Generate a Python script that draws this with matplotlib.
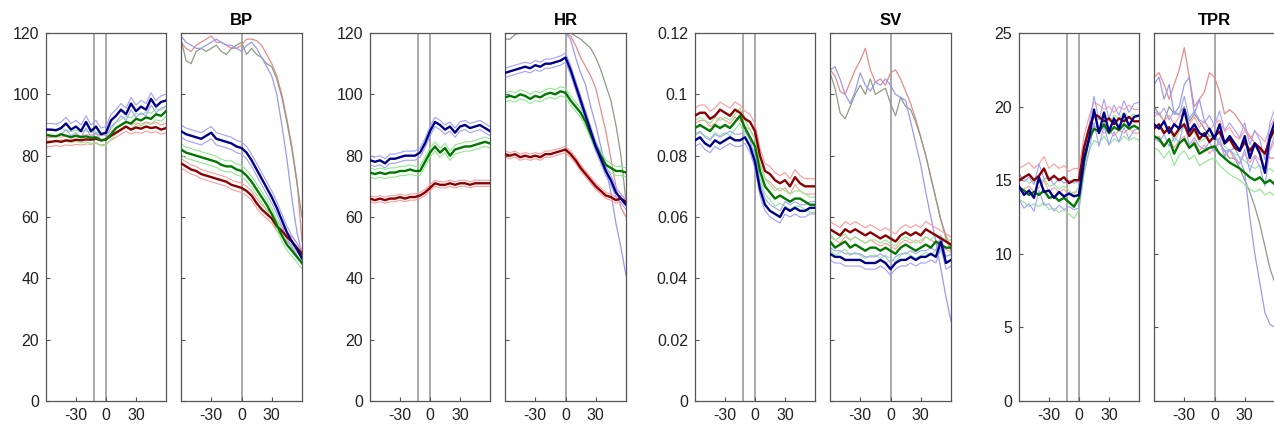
import matplotlib
matplotlib.use("Agg")
import matplotlib.pyplot as plt
from matplotlib.ticker import FuncFormatter

plt.rcParams['font.family'] = ['Liberation Sans', 'DejaVu Sans']
plt.rcParams['axes.unicode_minus'] = False

# time axis (s) for every panel
t = [-60, -55, -50, -45, -40, -35, -30, -25, -20, -15, -10, -5, 0,
     5, 10, 15, 20, 25, 30, 35, 40, 45, 50, 55, 60]

# ---- BP ----
bp_pre_red = [84.3, 84.5, 84.8, 84.5, 85.0, 84.8, 85.2, 85.0, 85.3, 85.2, 85.5, 85.0, 85.3,
              86.5, 87.5, 88.5, 89.5, 88.5, 89.2, 88.8, 89.5, 89.0, 89.3, 88.5, 89.0]
bp_pre_green = [86.8, 86.5, 86.3, 87.0, 86.5, 86.0, 86.5, 86.0, 86.3, 85.8, 86.0, 85.0, 85.2,
                87.0, 89.0, 90.0, 91.0, 90.5, 92.0, 91.5, 92.5, 92.0, 93.5, 93.0, 94.5]
bp_pre_blue = [88.5, 88.5, 88.3, 89.0, 90.5, 88.5, 89.5, 88.0, 91.0, 88.0, 89.5, 87.0, 87.5,
               91.5, 93.0, 95.0, 93.5, 97.0, 94.5, 96.0, 95.0, 98.5, 96.0, 97.5, 98.0]
bp_post_red = [77.5, 76.5, 75.5, 75.0, 74.0, 73.5, 73.0, 72.5, 72.0, 71.5, 70.5, 70.0, 69.5,
               68.5, 67.0, 64.5, 62.5, 61.0, 59.5, 57.0, 55.5, 53.5, 52.0, 50.0, 48.0]
bp_post_green = [82.0, 81.0, 80.5, 80.0, 79.5, 79.0, 78.5, 78.0, 77.0, 76.5, 76.5, 75.5, 75.0,
                 73.5, 71.5, 69.0, 66.5, 64.0, 61.0, 57.5, 54.0, 51.0, 49.0, 47.0, 45.0]
bp_post_blue = [88.0, 87.0, 86.5, 86.0, 85.5, 86.5, 87.5, 85.5, 85.0, 84.5, 84.0, 83.0, 82.5,
                81.0, 78.5, 75.5, 72.5, 69.5, 66.5, 63.0, 59.0, 55.0, 52.0, 49.5, 46.5]
bp_top_red = [117, 115, 114, 116, 117, 118, 119, 117, 117, 116, 115, 115, 116,
              118, 118, 117.5, 116, 113, 110, 106, 100, 92, 83, 72, 52]
bp_top_gray = [118, 111, 110, 114, 115, 114, 115, 116, 114, 113, 115, 116, 117,
               113, 115, 113, 112, 110, 109, 105, 99, 91, 82, 71, 60]
bp_top_blue = [119, 117, 116, 115, 115, 116, 117, 118, 117, 116, 116, 115, 114,
               116, 117, 115, 112, 109, 106, 100, 90, 79, 66, 55, 48]
bp_se = [1.5, 1.8, 2.0]

# ---- HR ----
hr_pre_red = [66.0, 65.5, 66.0, 65.5, 66.0, 66.0, 66.5, 66.0, 66.5, 66.5, 67.0, 68.0, 69.5,
              71.0, 70.5, 70.5, 71.0, 70.5, 71.0, 71.0, 70.5, 71.0, 71.0, 71.0, 71.0]
hr_pre_green = [74.5, 74.0, 74.5, 74.0, 74.5, 74.5, 75.0, 75.0, 75.5, 75.0, 75.0, 78.0, 81.0,
                83.0, 81.0, 82.5, 80.0, 82.0, 82.5, 83.0, 83.0, 83.5, 84.0, 84.5, 84.0]
hr_pre_blue = [78.5, 78.0, 78.5, 77.5, 79.0, 79.0, 79.5, 80.0, 80.0, 80.0, 81.0, 84.0, 88.0,
               91.0, 90.0, 88.5, 89.5, 87.5, 89.5, 90.0, 89.0, 89.5, 90.0, 89.0, 88.0]
hr_post_red = [80.5, 80.0, 80.5, 79.5, 80.0, 79.5, 80.0, 79.5, 80.5, 80.5, 81.0, 81.5, 82.0,
               80.5, 78.5, 76.0, 74.0, 72.0, 70.0, 68.5, 67.0, 66.5, 65.5, 66.0, 65.0]
hr_post_green = [99.0, 99.5, 99.0, 100.0, 99.5, 98.5, 99.5, 99.0, 100.0, 100.5, 100.0, 101.0, 100.5,
                 98.0, 96.0, 94.0, 91.0, 87.0, 83.0, 80.0, 77.0, 76.0, 75.0, 75.0, 74.5]
hr_post_blue = [107.0, 107.5, 108.0, 108.5, 109.0, 108.5, 109.5, 109.0, 110.0, 110.0, 110.5, 111.0, 112.0,
                108.0, 103.0, 98.0, 93.0, 88.0, 83.0, 79.0, 75.0, 72.0, 68.0, 66.0, 64.0]
hr_top_red = [120, 120, 120, 120, 120, 120, 120, 120, 120, 120, 120, 120, 120,
              119, 116, 112, 109, 106, 102, 95, 88, 79, 70, 63, 60]
hr_top_gray = [118, 118, 119.5, 120, 120, 120, 120, 120, 120, 120, 120, 120, 120,
               120, 119, 118, 116.5, 115, 112, 108, 103, 98, 90, 80, 65]
hr_top_blue = [120, 120, 120, 120, 120, 120, 120, 120, 120, 120, 120, 120, 120,
               118, 112, 107, 103, 96, 90, 83, 76, 68, 58, 50, 41]
hr_se = [1.0, 1.5, 1.5]

# ---- SV ----
sv_pre_red = [0.093, 0.094, 0.094, 0.092, 0.093, 0.095, 0.094, 0.093, 0.095, 0.094, 0.092, 0.091, 0.088,
              0.080, 0.075, 0.074, 0.072, 0.071, 0.072, 0.070, 0.073, 0.071, 0.070, 0.070, 0.070]
sv_pre_green = [0.089, 0.090, 0.089, 0.088, 0.090, 0.089, 0.090, 0.089, 0.091, 0.093, 0.089, 0.086, 0.083,
                0.075, 0.070, 0.068, 0.066, 0.067, 0.066, 0.065, 0.066, 0.066, 0.065, 0.064, 0.064]
sv_pre_blue = [0.085, 0.086, 0.084, 0.083, 0.085, 0.084, 0.085, 0.086, 0.085, 0.085, 0.086, 0.083, 0.078,
               0.069, 0.064, 0.062, 0.061, 0.060, 0.063, 0.062, 0.063, 0.062, 0.062, 0.063, 0.063]
sv_post_red = [0.056, 0.055, 0.054, 0.056, 0.055, 0.056, 0.055, 0.054, 0.055, 0.054, 0.053, 0.054, 0.053,
               0.052, 0.054, 0.055, 0.054, 0.055, 0.054, 0.056, 0.055, 0.054, 0.053, 0.052, 0.051]
sv_post_green = [0.052, 0.050, 0.051, 0.052, 0.050, 0.051, 0.050, 0.049, 0.050, 0.050, 0.049, 0.050, 0.049,
                 0.048, 0.050, 0.051, 0.050, 0.049, 0.050, 0.051, 0.050, 0.052, 0.051, 0.050, 0.050]
sv_post_blue = [0.048, 0.047, 0.047, 0.046, 0.046, 0.046, 0.046, 0.045, 0.045, 0.045, 0.046, 0.045, 0.043,
                0.045, 0.046, 0.046, 0.047, 0.046, 0.047, 0.047, 0.048, 0.047, 0.052, 0.045, 0.046]
sv_top_red = [0.108, 0.106, 0.101, 0.100, 0.104, 0.108, 0.111, 0.115, 0.108, 0.104, 0.105, 0.103, 0.107,
              0.108, 0.105, 0.101, 0.097, 0.092, 0.086, 0.080, 0.073, 0.066, 0.059, 0.054, 0.050]
sv_top_gray = [0.107, 0.102, 0.094, 0.092, 0.096, 0.100, 0.103, 0.100, 0.105, 0.100, 0.101, 0.102, 0.097,
               0.093, 0.099, 0.096, 0.095, 0.091, 0.086, 0.080, 0.073, 0.066, 0.059, 0.053, 0.049]
sv_top_blue = [0.108, 0.109, 0.105, 0.100, 0.097, 0.101, 0.107, 0.103, 0.101, 0.104, 0.103, 0.105, 0.103,
               0.100, 0.099, 0.098, 0.091, 0.084, 0.077, 0.068, 0.060, 0.052, 0.043, 0.034, 0.026]
sv_se = [0.0025, 0.0025, 0.002]

# ---- TPR ----
tpr_pre_red = [15.0, 15.2, 15.4, 15.0, 15.3, 15.8, 15.0, 15.3, 15.0, 15.2, 14.8, 15.0, 15.0,
               17.2, 18.5, 19.5, 19.3, 19.0, 19.2, 18.8, 19.2, 19.0, 19.3, 19.0, 19.0]
tpr_pre_green = [14.5, 14.3, 14.0, 14.2, 14.0, 14.3, 13.8, 13.9, 13.6, 13.8, 13.5, 13.2, 13.8,
                 16.2, 17.8, 18.5, 18.3, 18.8, 18.2, 18.6, 18.4, 18.8, 18.5, 18.7, 18.5]
tpr_pre_blue = [14.6, 14.0, 14.3, 13.8, 15.2, 14.2, 14.3, 13.8, 14.2, 13.9, 14.1, 13.9, 14.0,
                16.5, 17.8, 19.8, 18.2, 19.6, 18.3, 19.2, 18.5, 19.5, 18.7, 19.3, 19.4]
tpr_post_red = [18.5, 18.8, 18.2, 18.6, 18.0, 18.5, 18.8, 18.0, 18.5, 17.8, 18.2, 17.6, 18.0,
                18.3, 17.5, 17.8, 17.2, 17.0, 17.6, 17.0, 17.5, 17.2, 16.8, 17.8, 18.5]
tpr_post_green = [18.0, 17.8, 17.3, 17.8, 16.8, 17.5, 17.8, 17.2, 17.5, 16.8, 17.0, 17.2, 17.3,
                  16.8, 16.5, 16.2, 16.0, 15.8, 15.5, 15.2, 15.0, 15.2, 14.8, 15.0, 14.7]
tpr_post_blue = [18.8, 18.5, 19.0, 18.2, 18.8, 18.5, 19.8, 18.3, 18.8, 18.2, 18.0, 18.5, 17.8,
                 18.8, 17.5, 18.0, 17.5, 17.0, 18.0, 16.5, 17.5, 16.8, 15.5, 18.0, 19.0]
tpr_top_red = [22.0, 22.3, 21.5, 20.5, 21.5, 22.5, 24.0, 22.0, 20.0, 20.5, 21.0, 22.3, 22.0,
               21.0, 19.5, 19.8, 19.5, 19.0, 18.5, 18.0, 17.5, 17.0, 16.8, 16.5, 16.5]
tpr_top_gray = [20.0, 19.5, 19.0, 20.0, 19.5, 19.5, 20.0, 19.0, 19.5, 19.0, 18.5, 18.0, 18.0,
                17.5, 17.0, 16.5, 16.5, 15.8, 15.0, 14.2, 13.2, 12.0, 10.5, 9.0, 8.0]
tpr_top_blue = [21.5, 22.0, 20.5, 21.5, 19.5, 20.0, 21.5, 22.0, 19.5, 20.5, 19.0, 18.5, 18.0,
                17.5, 17.0, 17.0, 17.2, 16.5, 15.5, 12.5, 10.0, 8.0, 6.0, 5.2, 5.0]
tpr_se = [0.8, 0.8, 0.9]

titles = ['BP', 'HR', 'SV', 'TPR']
ylims = [120, 120, 0.12, 25]
yticks = [[0, 20, 40, 60, 80, 100, 120], [0, 20, 40, 60, 80, 100, 120],
          [0, 0.02, 0.04, 0.06, 0.08, 0.1, 0.12], [0, 5, 10, 15, 20, 25]]
xticks = [-30, 0, 30]
marker_lines_pre = [-12, 0]

pre = [[bp_pre_red, bp_pre_green, bp_pre_blue], [hr_pre_red, hr_pre_green, hr_pre_blue],
       [sv_pre_red, sv_pre_green, sv_pre_blue], [tpr_pre_red, tpr_pre_green, tpr_pre_blue]]
post = [[bp_post_red, bp_post_green, bp_post_blue], [hr_post_red, hr_post_green, hr_post_blue],
        [sv_post_red, sv_post_green, sv_post_blue], [tpr_post_red, tpr_post_green, tpr_post_blue]]
tops = [[bp_top_red, bp_top_gray, bp_top_blue], [hr_top_red, hr_top_gray, hr_top_blue],
        [sv_top_red, sv_top_gray, sv_top_blue], [tpr_top_red, tpr_top_gray, tpr_top_blue]]
ses = [bp_se, hr_se, sv_se, tpr_se]

dark = ['#8b0000', '#007800', '#00008b']
light = ['#ff9a9a', '#8fe88f', '#a0a0ff']
top_cols = ['#e88a8a', '#8f9a86', '#9a9af0']

W, H = 1274, 433
fig = plt.figure(figsize=(W / 100, H / 100), dpi=100)

pair_left = [46, 370, 695, 1019]
bot = 1 - 401 / H
hgt = (401 - 33) / H


def style(ax, ymax, ticks, labels):
    ax.set_xlim(-60, 60)
    ax.set_ylim(0, ymax)
    ax.set_xticks(xticks)
    ax.set_yticks(ticks)
    ax.tick_params(direction='in', length=3, color='#555555', labelsize=11.5,
                   labelcolor='#222222', pad=5)
    if labels:
        ax.yaxis.set_major_formatter(FuncFormatter(lambda v, p: '%g' % v))
    else:
        ax.set_yticklabels([])
    for s in ax.spines.values():
        s.set_color('#555555')
        s.set_linewidth(0.9)


def draw_means(ax, series, se):
    for k in range(3):
        up = [v + se[k] for v in series[k]]
        lo = [v - se[k] for v in series[k]]
        ax.plot(t, up, color=light[k], lw=0.8, zorder=2)
        ax.plot(t, lo, color=light[k], lw=0.8, zorder=2)
    for k in range(3):
        ax.plot(t, series[k], color=dark[k], lw=1.7, zorder=3)


for i in range(4):
    x0 = pair_left[i]
    axl = fig.add_axes([x0 / W, bot, 120 / W, hgt])
    axr = fig.add_axes([(x0 + 135) / W, bot, 121 / W, hgt])
    for xv in marker_lines_pre:
        axl.axvline(xv, color='#999999', lw=1.2, zorder=1)
    axr.axvline(0, color='#999999', lw=1.2, zorder=1)
    draw_means(axl, pre[i], ses[i])
    for k in range(3):
        axr.plot(t, tops[i][k], color=top_cols[k], lw=0.9, zorder=2)
    draw_means(axr, post[i], ses[i])
    style(axl, ylims[i], yticks[i], True)
    style(axr, ylims[i], yticks[i], False)
    axr.set_title(titles[i], fontsize=12, fontweight='bold', pad=6)

fig.savefig('out.png', dpi=100)
